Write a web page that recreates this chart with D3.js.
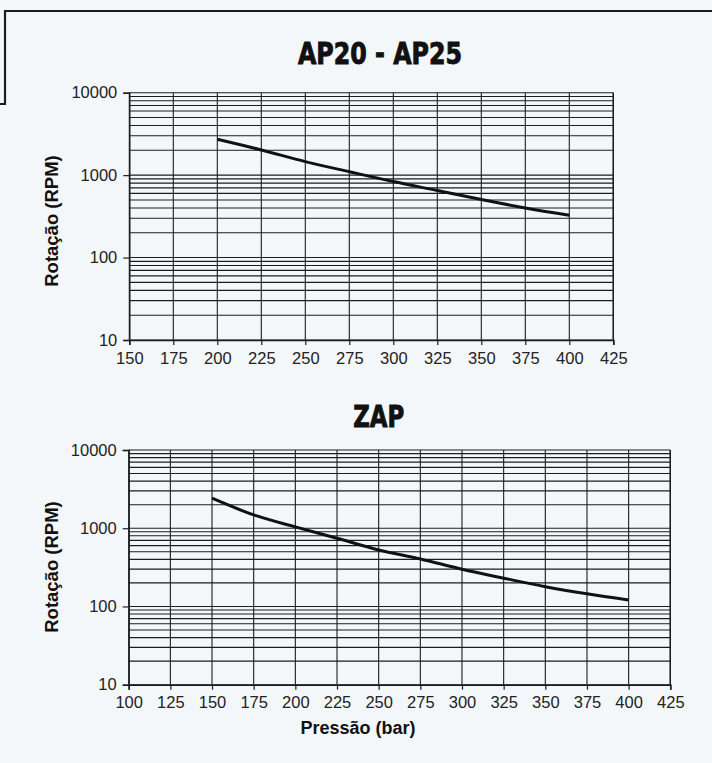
<!DOCTYPE html>
<html>
<head>
<meta charset="utf-8">
<script src="https://cdn.jsdelivr.net/npm/d3@7/dist/d3.min.js"></script>
<style>
  html, body { margin: 0; padding: 0; background: #f4f7fa; }
  svg { display: block; }
</style>
</head>
<body>
<svg id="chart" width="712" height="763"></svg>
<script>
// ---------- DATA ----------
const yTickValues = [10, 100, 1000, 10000];
const yTickLabels = ["10", "100", "1000", "10000"];

const apTitle = "AP20 - AP25";
const apXTicks = [150, 175, 200, 225, 250, 275, 300, 325, 350, 375, 400, 425];
const apPressure = [200, 225, 250, 275, 300, 325, 350, 375, 400];
const apRpm = [2720, 2020, 1460, 1100, 835, 650, 505, 400, 326];

const zapTitle = "ZAP";
const zapXTicks = [100, 125, 150, 175, 200, 225, 250, 275, 300, 325, 350, 375, 400, 425];
const zapPressure = [150, 175, 200, 225, 250, 275, 300, 325, 350, 375, 400];
const zapRpm = [2420, 1480, 1040, 745, 527, 405, 299, 230, 179, 145, 121];

const yLabel = "Rotação (RPM)";
const xLabel = "Pressão (bar)";

// ---------- DRAW ----------
const svg = d3.select("#chart");
const ink = "#1c1c1c";

// frame (tab shape)
svg.append("path")
  .attr("d", "M0,104 L5,104 L5,11 L712,11")
  .attr("fill", "none").attr("stroke", ink).attr("stroke-width", 2.2);

function drawChart(o) {
  const x = d3.scaleLinear().domain([o.xTicks[0], o.xTicks[o.xTicks.length - 1]]).range([o.x0, o.x1]);
  const y = d3.scaleLog().domain([10, 10000]).range([o.y0, o.y1]);
  const g = svg.append("g");

  // horizontal grid: every 1..9 multiple of each decade
  const hLines = [];
  for (let d = 10; d < 10000; d *= 10) for (let m = 1; m < 10; m++) hLines.push(d * m);
  hLines.push(10000);
  g.selectAll(".hg").data(hLines).join("line")
    .attr("x1", o.x0).attr("x2", o.x1)
    .attr("y1", v => y(v)).attr("y2", v => y(v))
    .attr("stroke", ink).attr("stroke-width", 1.1);

  // vertical grid
  g.selectAll(".vg").data(o.xTicks).join("line")
    .attr("x1", v => x(v)).attr("x2", v => x(v))
    .attr("y1", o.y1).attr("y2", o.y0)
    .attr("stroke", ink).attr("stroke-width", 1.1);

  // bottom axis
  const xAxis = d3.axisBottom(x).tickValues(o.xTicks).tickSize(5).tickPadding(7).tickFormat(d3.format("d"));
  const gx = g.append("g").attr("transform", `translate(0,${o.y0})`).call(xAxis);
  gx.select(".domain").attr("stroke", ink).attr("stroke-width", 1.6);
  gx.selectAll(".tick line").attr("stroke", ink).attr("stroke-width", 1.2);
  gx.selectAll("text").attr("font-family", "'Liberation Sans', Arial, sans-serif")
    .attr("font-size", 16.5).attr("fill", "#222");

  // left axis
  const yAxis = d3.axisLeft(y).tickValues(yTickValues).tickSize(6).tickPadding(6)
    .tickFormat((d, i) => yTickLabels[i]);
  const gy = g.append("g").attr("transform", `translate(${o.x0},0)`).call(yAxis);
  gy.select(".domain").attr("stroke", ink).attr("stroke-width", 1.4);
  gy.selectAll(".tick line").attr("stroke", ink).attr("stroke-width", 1.2);
  gy.selectAll("text").attr("font-family", "'Liberation Sans', Arial, sans-serif")
    .attr("font-size", 16.5).attr("fill", "#222");

  // right border
  g.append("line").attr("x1", o.x1).attr("x2", o.x1).attr("y1", o.y1).attr("y2", o.y0)
    .attr("stroke", ink).attr("stroke-width", 1.4);

  // curve
  const line = d3.line().x(d => x(d[0])).y(d => y(d[1])).curve(d3.curveMonotoneX);
  g.append("path").datum(o.px.map((p, i) => [p, o.py[i]]))
    .attr("d", line).attr("fill", "none").attr("stroke", "#111").attr("stroke-width", 3);

  // title
  g.append("text").attr("x", o.tx).attr("y", o.ty).attr("text-anchor", "middle")
    .attr("font-family", "'Liberation Sans Narrow', 'DejaVu Sans Condensed', sans-serif")
    .attr("font-weight", "bold").attr("font-size", 31).attr("fill", "#111")
    .attr("stroke", "#111").attr("stroke-width", 0.9)
    .attr("textLength", o.tw).attr("lengthAdjust", "spacingAndGlyphs")
    .text(o.title);

  // y label
  g.append("text")
    .attr("transform", `translate(${o.lx},${o.ly}) rotate(-90)`)
    .attr("text-anchor", "middle")
    .attr("font-family", "'Liberation Sans', Arial, sans-serif")
    .attr("font-weight", "bold").attr("font-size", 18.5).attr("fill", "#111")
    .text(yLabel);
}

drawChart({
  title: apTitle, xTicks: apXTicks, px: apPressure, py: apRpm,
  x0: 129.3, x1: 613.3, y0: 340, y1: 92.7,
  tx: 380, ty: 64, tw: 164, lx: 58, ly: 221
});

drawChart({
  title: zapTitle, xTicks: zapXTicks, px: zapPressure, py: zapRpm,
  x0: 128.7, x1: 670.3, y0: 684.7, y1: 450,
  tx: 378.7, ty: 426.7, tw: 51, lx: 58, ly: 567
});

svg.append("text").attr("x", 358).attr("y", 734).attr("text-anchor", "middle")
  .attr("font-family", "'Liberation Sans', Arial, sans-serif")
  .attr("font-weight", "bold").attr("font-size", 18).attr("fill", "#111")
  .text(xLabel);
</script>
</body>
</html>
